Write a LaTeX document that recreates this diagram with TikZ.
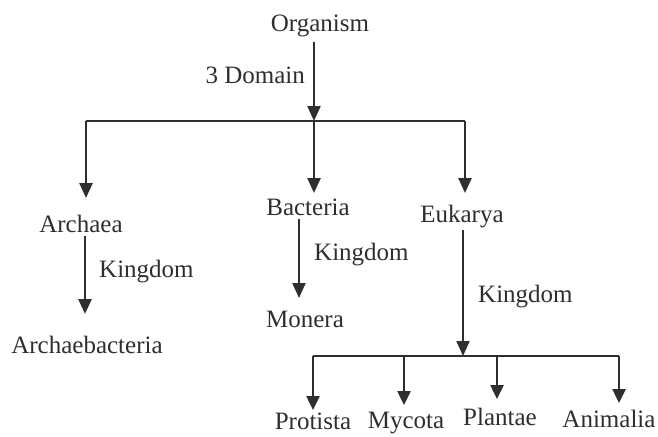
\documentclass[tikz,border=0pt]{standalone}
\usepackage{fontspec}
\setmainfont{Liberation Serif}
\usetikzlibrary{arrows.meta}
\definecolor{ink}{HTML}{2E2E2E}
\begin{document}
\begin{tikzpicture}[x=1pt,y=-1pt,
  lbl/.style={anchor=base,inner sep=0pt,text=ink,font=\fontsize{25}{28}\selectfont},
  lblw/.style={lbl,anchor=base west},
  lble/.style={lbl,anchor=base east},
  ln/.style={draw=ink,line width=2.7pt},
  arr/.style={draw=ink,line width=2.5pt,-{Triangle[length=15pt,width=13pt]}},
  arrthin/.style={arr,line width=2pt},
  arrsm/.style={arr,-{Triangle[length=14pt,width=13pt]}}]
\useasboundingbox (0,0) rectangle (658,436);
% text nodes
\node[lbl] (org) at (320,32) {Organism};
\node[lble] (dom) at (305,83) {3 Domain};
\node[lbl] (arch) at (81,232) {Archaea};
\node[lbl] (bact) at (308,215) {Bacteria};
\node[lbl] (euk) at (462,222) {Eukarya};
\node[lblw] (k1) at (99,277) {Kingdom};
\node[lbl] (archb) at (87,353) {Archaebacteria};
\node[lblw] (k2) at (314,260) {Kingdom};
\node[lbl] (mon) at (305,327) {Monera};
\node[lblw] (k3) at (478,302) {Kingdom};
\node[lbl] (pro) at (313,429) {Protista};
\node[lbl] (myc) at (406,428) {Mycota};
\node[lbl] (pla) at (500,425) {Plantae};
\node[lbl] (ani) at (609,427) {Animalia};
% junctions and arrow end points
\coordinate (j1) at (314,121);
\coordinate (bA) at (86,121);
\coordinate (bE) at (465,121);
\coordinate (o1) at (314,42);
\coordinate (tA) at (86,198);
\coordinate (tB) at (314,193);
\coordinate (tE) at (465,193);
\coordinate (sA) at (85,236);
\coordinate (eA) at (85,314);
\coordinate (sB) at (299,219);
\coordinate (eB) at (299,298);
\coordinate (sE) at (463,230);
\coordinate (j2) at (463,356);
\coordinate (cP) at (313,356);
\coordinate (cM) at (404,356);
\coordinate (cL) at (497,356);
\coordinate (cA) at (619,356);
\coordinate (tP) at (313,410);
\coordinate (tM) at (404,405);
\coordinate (tL) at (497,399);
\coordinate (tN) at (619,403);
% connectors
\draw[ln] (bA) -- (bE);
\draw[arr,line width=2.3pt] (o1) -- (j1);
\draw[arr] (bA) -- (tA);
\draw[arr] (j1) -- (tB);
\draw[arr] (bE) -- (tE);
\draw[arr,line width=2.7pt] (sA) -- (eA);
\draw[arrthin] (sB) -- (eB);
\draw[arrthin] (sE) -- (j2);
\draw[ln] (cP) -- (cA);
\draw[arrsm] (cP) -- (tP);
\draw[arrsm] (cM) -- (tM);
\draw[arrsm] (cL) -- (tL);
\draw[arrsm] (cA) -- (tN);
\end{tikzpicture}
\end{document}
